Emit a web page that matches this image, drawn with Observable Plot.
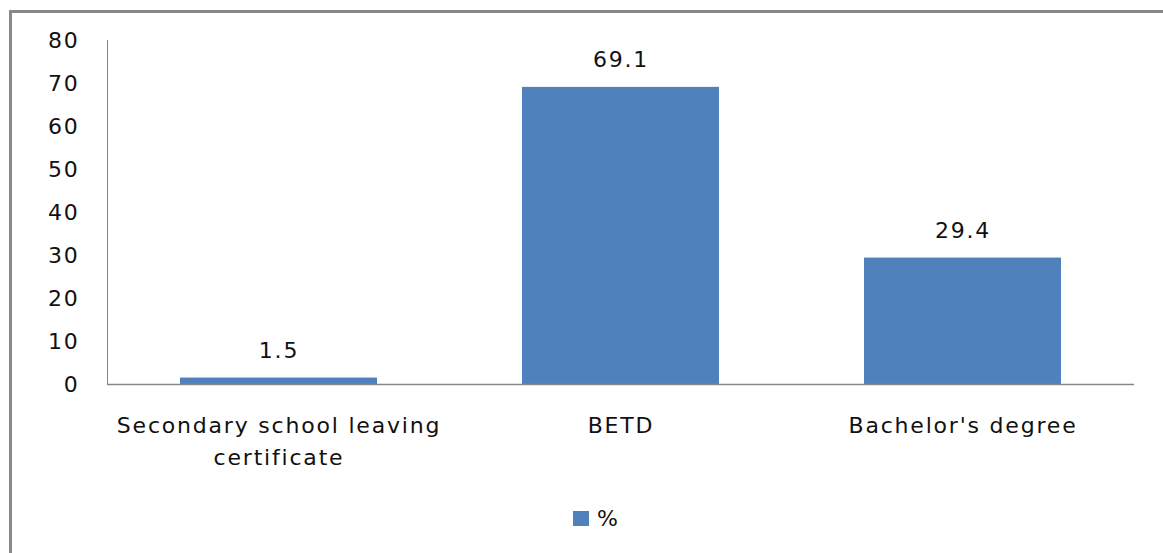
<!DOCTYPE html>
<html><head><meta charset="utf-8">
<script src="https://cdn.jsdelivr.net/npm/d3@7"></script>
<script src="https://cdn.jsdelivr.net/npm/@observablehq/plot@0.6"></script>
<style>
body{margin:0;background:#fff;width:1163px;height:553px;overflow:hidden;position:relative;font-family:"DejaVu Sans",sans-serif;}
#frame{position:absolute;left:9px;top:10px;width:1200px;height:600px;border:3px solid #888;box-sizing:border-box}
#chart{position:absolute;left:0;top:0}
#chart text{letter-spacing:1.8px}
#legend{position:absolute;left:573px;top:506px;display:flex;align-items:center;font-size:22px;color:#111;letter-spacing:1.8px}
#legend .sw{width:16px;height:15px;background:#4F81BD;margin-right:8px}
</style></head>
<body>
<div id="frame"></div>
<div id="chart"></div>
<div id="legend"><span class="sw"></span><span>%</span></div>
<script>
const categories = ["Secondary school leaving certificate", "BETD", "Bachelor's degree"];
const xLabels = ["Secondary school leaving\ncertificate", "BETD", "Bachelor's degree"];
const values = [1.5, 69.1, 29.4];
const yTicks = [0, 10, 20, 30, 40, 50, 60, 70, 80];

const data = categories.map((c, i) => ({category: c, value: values[i]}));

const chart = Plot.plot({
  width: 1163,
  height: 480,
  marginLeft: 107,
  marginRight: 29,
  marginTop: 40,
  marginBottom: 96,
  style: {fontFamily: "DejaVu Sans", fontSize: "22px", color: "#111", background: "transparent"},
  x: {domain: categories, paddingInner: 0.4245, paddingOuter: 0.21225, label: null},
  y: {domain: [0, 80], label: null},
  marks: [
    Plot.barY(data, {x: "category", y: "value", fill: "#4F81BD"}),
    Plot.frame({anchor: "left", stroke: "#868686", strokeOpacity: 1}),
    Plot.ruleY([0], {stroke: "#868686", strokeWidth: 1.5}),
    Plot.axisY({ticks: yTicks, tickSize: 0, tickPadding: 28, fontSize: 22, label: null}),
    Plot.axisX({tickSize: 0, tickPadding: 26, fontSize: 22, lineHeight: 1.45, label: null,
      tickFormat: d => xLabels[categories.indexOf(d)]}),
    Plot.text(data, {x: "category", y: "value", text: d => d.value.toFixed(1), dy: -27, fontSize: 22, fill: "#111"})
  ]
});
document.getElementById("chart").appendChild(chart);
</script>
</body></html>
